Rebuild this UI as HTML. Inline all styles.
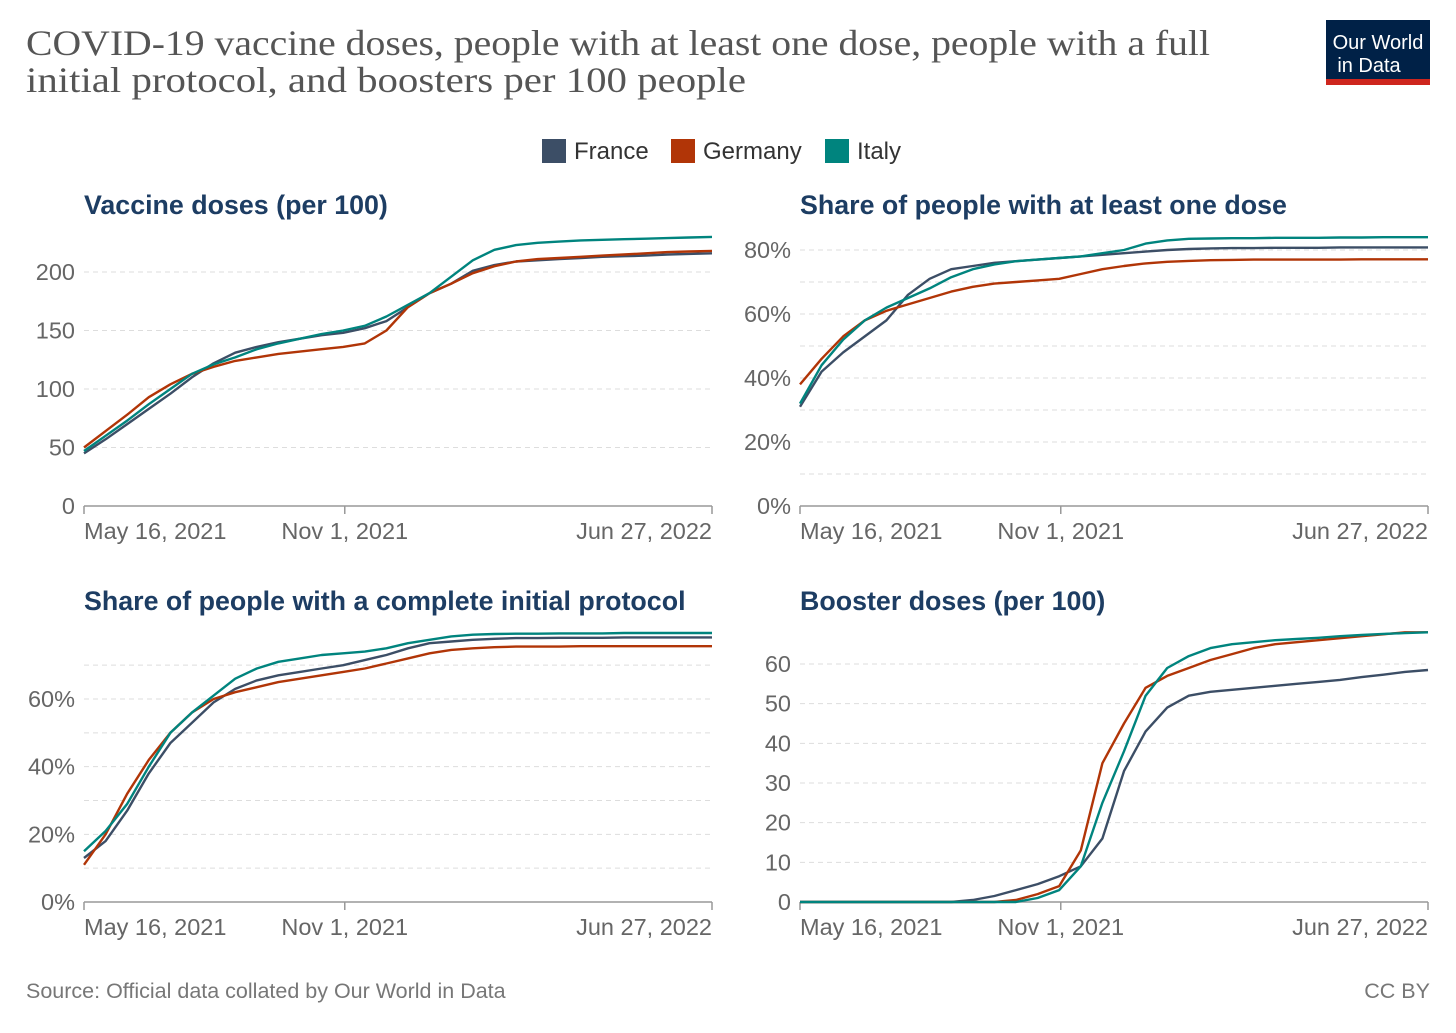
<!DOCTYPE html>
<html><head><meta charset="utf-8">
<style>
body{margin:0;background:#fff;width:1456px;height:1028px;overflow:hidden;font-family:"Liberation Sans",sans-serif}
</style></head>
<body>
<svg id="chart" width="1456" height="1028" xmlns="http://www.w3.org/2000/svg" font-family="Liberation Sans, sans-serif">
<text x="26" y="55" textLength="1184" lengthAdjust="spacingAndGlyphs" style="font-family:'Liberation Serif',serif;font-size:36px" fill="#555">COVID-19 vaccine doses, people with at least one dose, people with a full</text>
<text x="26" y="92" textLength="720" lengthAdjust="spacingAndGlyphs" style="font-family:'Liberation Serif',serif;font-size:36px" fill="#555">initial protocol, and boosters per 100 people</text>
<g>
<rect x="1326" y="20" width="104" height="60" fill="#002147"/>
<rect x="1326" y="79" width="104" height="6" fill="#ce261e"/>
<text x="1378" y="49" font-size="20" fill="#fff" text-anchor="middle">Our World</text>
<text x="1369" y="72" font-size="20" fill="#fff" text-anchor="middle">in Data</text>
</g>
<g>
<g><rect x="542" y="139" width="24" height="24" fill="#3c4e66"/><text x="574" y="159" font-size="24" fill="#333">France</text></g>
<g><rect x="671" y="139" width="24" height="24" fill="#b13507"/><text x="703" y="159" font-size="24" fill="#333">Germany</text></g>
<g><rect x="825" y="139" width="24" height="24" fill="#00847e"/><text x="857" y="159" font-size="24" fill="#333">Italy</text></g>
</g>
<text x="26" y="998" font-size="21.5" fill="#777">Source: Official data collated by Our World in Data</text>
<text x="1430" y="998" font-size="21.5" fill="#777" text-anchor="end">CC BY</text>
</svg>
<script>
const days=[0,14,28,42,56,70,84,98,112,126,140,154,168,182,196,210,224,238,252,266,280,294,308,322,336,350,364,378,392,407];
const xTickLabels=["May 16, 2021","Nov 1, 2021","Jun 27, 2022"];
const xTickDays=[0,169,407];
const seriesNames=["France","Germany","Italy"];
const colors=["#3c4e66","#b13507","#00847e"];

const dosesFrance=[45,57,70,83,96,110,122,131,136,140,143,146,148,152,158,170,182,190,201,206,209,210,211,212,213,213.5,214,215,215.5,216];
const dosesGermany=[50,64,78,93,104,113,119,124,127,130,132,134,136,139,150,170,182,190,199,205,209,211,212,213,214,215,216,217,217.5,218];
const dosesItaly=[47,60,73,87,100,113,121,127,134,139,143,147,150,154,162,172,182,196,210,219,223,225,226,227,227.5,228,228.5,229,229.5,230];

const oneFrance=[31,42,48,53,58,66,71,74,75,76,76.5,77,77.5,78,78.5,79,79.5,80,80.3,80.5,80.6,80.6,80.7,80.7,80.7,80.8,80.8,80.8,80.8,80.8];
const oneGermany=[38,46,53,58,61,63,65,67,68.5,69.5,70,70.5,71,72.5,74,75,75.8,76.3,76.6,76.8,76.9,77,77,77,77,77,77.1,77.1,77.1,77.1];
const oneItaly=[32,44,52,58,62,65,68,71.5,74,75.5,76.5,77,77.5,78,79,80,82,83,83.5,83.6,83.7,83.7,83.8,83.8,83.8,83.9,83.9,84,84,84];

const fullFrance=[13,18,27,38,47,53,59,63,65.5,67,68,69,70,71.5,73,75,76.5,77,77.5,77.8,78,78,78.1,78.1,78.1,78.2,78.2,78.2,78.2,78.2];
const fullGermany=[11,20,32,42,50,56,60,62,63.5,65,66,67,68,69,70.5,72,73.5,74.5,75,75.3,75.5,75.5,75.5,75.6,75.6,75.6,75.6,75.6,75.6,75.6];
const fullItaly=[15,21,29,40,50,56,61,66,69,71,72,73,73.5,74,75,76.5,77.5,78.5,79,79.2,79.3,79.3,79.4,79.4,79.4,79.5,79.5,79.5,79.5,79.5];

const boostFrance=[0,0,0,0,0,0,0,0,0.5,1.5,3,4.5,6.5,9,16,33,43,49,52,53,53.5,54,54.5,55,55.5,56,56.7,57.3,58,58.5];
const boostGermany=[0,0,0,0,0,0,0,0,0,0,0.5,2,4,13,35,45,54,57,59,61,62.5,64,65,65.5,66,66.5,67,67.5,68,68];
const boostItaly=[0,0,0,0,0,0,0,0,0,0,0,1,3,9,25,38,52,59,62,64,65,65.5,66,66.3,66.6,67,67.3,67.6,67.8,68];

const panels=[
 {name:"vaccine-doses",title:"Vaccine doses (per 100)",x0:84,x1:712,yb:506,yt:272,vt:200,grid:[0,50,100,150,200],labels:[0,50,100,150,200],pct:false,data:[dosesFrance,dosesGermany,dosesItaly],ty:205},
 {name:"at-least-one-dose",title:"Share of people with at least one dose",x0:800,x1:1428,yb:506,yt:250,vt:80,grid:[0,10,20,30,40,50,60,70,80],labels:[0,20,40,60,80],pct:true,data:[oneFrance,oneGermany,oneItaly],ty:205},
 {name:"complete-protocol",title:"Share of people with a complete initial protocol",x0:84,x1:712,yb:902,yt:699,vt:60,grid:[0,10,20,30,40,50,60,70],labels:[0,20,40,60],pct:true,data:[fullFrance,fullGermany,fullItaly],ty:601},
 {name:"booster-doses",title:"Booster doses (per 100)",x0:800,x1:1428,yb:902,yt:664,vt:60,grid:[0,10,20,30,40,50,60],labels:[0,10,20,30,40,50,60],pct:false,data:[boostFrance,boostGermany,boostItaly],ty:601}
];
const svg=document.getElementById('chart');
const NS="http://www.w3.org/2000/svg";
function mk(tag,attrs,parent){const e=document.createElementNS(NS,tag);for(const k in attrs)e.setAttribute(k,attrs[k]);parent.appendChild(e);return e;}
panels.forEach(p=>{
 const g=mk('g',{},svg);
 
 
 const xs=d=>p.x0+d/407*(p.x1-p.x0);
 const ys=v=>p.yb-v/p.vt*(p.yb-p.yt);
 const t=mk('text',{x:p.x0,y:p.ty+9,'font-size':26.8,'font-weight':'bold',fill:'#1d3d63'},g);
 t.textContent=p.title;
 
 
 p.grid.forEach(v=>{
  if(v===0)return;
  const l=mk('line',{x1:p.x0,x2:p.x1,y1:ys(v),y2:ys(v),stroke:'#ddd','stroke-dasharray':'5,4','stroke-width':1},g);
  
  
 });
 p.labels.forEach(v=>{
  const tx=mk('text',{x:p.x0-9,y:ys(v)+8,'font-size':23.5,fill:'#666','text-anchor':'end'},g);
  tx.textContent=v+(p.pct?'%':'');
  
  
 });
 const ax=mk('line',{x1:p.x0,x2:p.x1,y1:p.yb,y2:p.yb,stroke:'#999','stroke-width':1.5},g);
 
 
 xTickDays.forEach((d,i)=>{
  const tk=mk('line',{x1:xs(d),x2:xs(d),y1:p.yb,y2:p.yb+8,stroke:'#999','stroke-width':1.5},g);
  
  
  const anchor=i===0?'start':(i===2?'end':'middle');
  const tx=mk('text',{x:xs(d),y:p.yb+33,'font-size':23.5,fill:'#666','text-anchor':anchor},g);
  tx.textContent=xTickLabels[i];
  
  
 });
 p.data.forEach((arr,si)=>{
  const pts=arr.map((v,i)=>xs(days[i]).toFixed(1)+','+ys(v).toFixed(1)).join(' ');
  const pl=mk('polyline',{points:pts,fill:'none',stroke:colors[si],'stroke-width':2.4,'stroke-linejoin':'round'},g);
  
  
 });
});
</script>
</body></html>
